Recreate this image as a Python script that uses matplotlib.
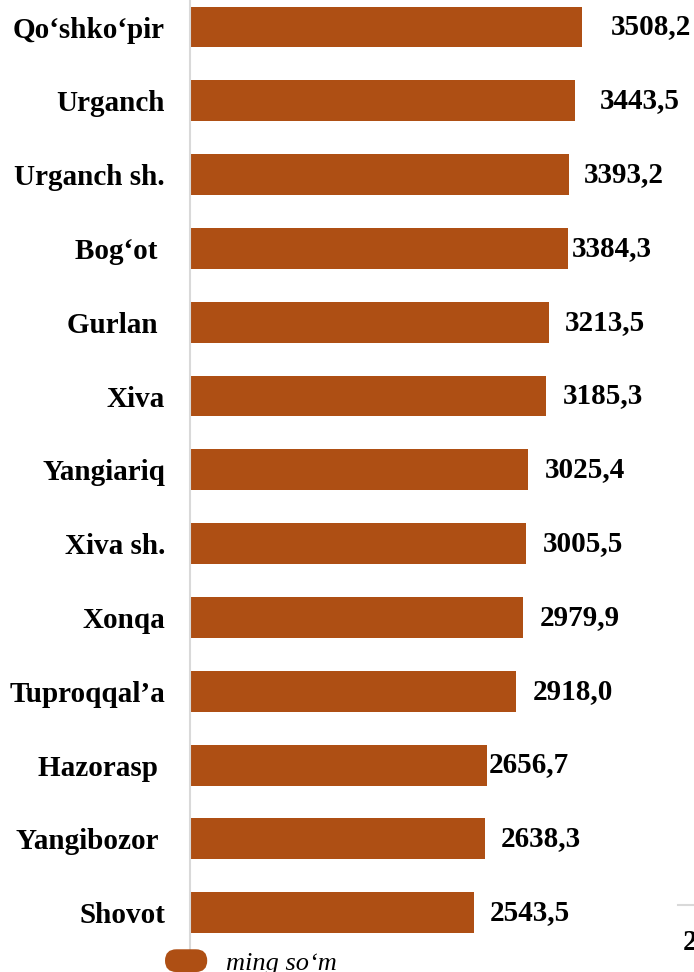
import matplotlib.pyplot as plt
import numpy as np
from matplotlib.patches import Patch, FancyBboxPatch
from matplotlib.legend_handler import HandlerPatch
from matplotlib.lines import Line2D

plt.rcParams['font.family'] = ['Liberation Serif', 'DejaVu Serif']

districts = ['Qo‘shko‘pir', 'Urganch', 'Urganch sh.', 'Bog‘ot ', 'Gurlan ', 'Xiva',
             'Yangiariq', 'Xiva sh.', 'Xonqa', 'Tuproqqal’a', 'Hazorasp ',
             'Yangibozor ', 'Shovot']
values = [3508.2, 3443.5, 3393.2, 3384.3, 3213.5, 3185.3,
          3025.4, 3005.5, 2979.9, 2918.0, 2656.7, 2638.3, 2543.5]
unit = 'ming so‘m'

# label gap after bar end (pixels), the original labels were moved by hand
label_gap = [29, 25, 15, 4, 16, 17, 17, 17, 17, 17, 2, 16, 16]

color = '#AE4F14'

W, H = 694, 972
fig = plt.figure(figsize=(W / 100, H / 100), dpi=100)
ax = fig.add_axes([190 / W, 1 - 951 / H, (W - 190) / W, 951 / H])

y = np.arange(len(values))
ax.barh(y, values, height=0.555, color=color)

for i, v in enumerate(values):
    ax.annotate(f"{v:.1f}".replace('.', ','), (v, i), xytext=(label_gap[i], 0),
                textcoords='offset pixels', va='center', ha='left',
                fontsize=21, fontweight='bold')

ax.set_xlim(0, 4510)
ax.set_ylim(12.52, -0.366)
ax.set_yticks(y)
ax.set_yticklabels(districts, fontsize=21, fontweight='bold')
ax.tick_params(axis='y', length=0, pad=18)
ax.set_xticks([])
for s in ['top', 'right', 'bottom']:
    ax.spines[s].set_visible(False)
ax.spines['left'].set_color('#d9d9d9')
ax.spines['left'].set_linewidth(1.5)


class RoundHandler(HandlerPatch):
    def create_artists(self, legend, orig_handle, xdescent, ydescent,
                       width, height, fontsize, trans):
        p = FancyBboxPatch((-xdescent, -ydescent), width, height,
                           boxstyle=f"round,pad=0,rounding_size={height / 2}",
                           facecolor=color, edgecolor='none', transform=trans)
        return [p]


fig.legend(handles=[Patch(color=color)], labels=[unit],
           handler_map={Patch: RoundHandler()},
           loc='center left', bbox_to_anchor=(165 / W, 1 - 962 / H),
           frameon=False, borderpad=0, borderaxespad=0,
           handlelength=1.6, handleheight=0.95, handletextpad=0.7,
           prop={'style': 'italic', 'size': 19})

# pieces of the neighbouring chart cut off at the right edge
fig.text(683 / W, 1 - 942 / H, '2', fontsize=21, fontweight='bold', va='center')
fig.add_artist(Line2D([678 / W, 1], [1 - 905 / H] * 2, color='#d9d9d9', lw=1.5))

fig.savefig('out.png', dpi=100)
